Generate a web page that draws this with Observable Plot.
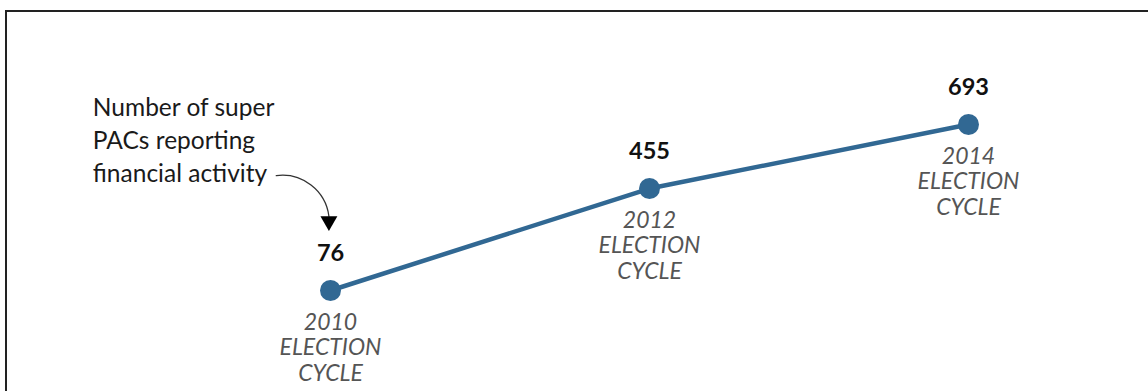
<!DOCTYPE html>
<html>
<head>
<meta charset="utf-8">
<script src="https://cdn.jsdelivr.net/npm/d3@7"></script>
<script src="https://cdn.jsdelivr.net/npm/@observablehq/plot@0.6"></script>
<style>
  html, body { margin: 0; padding: 0; background: #fff; }
  #wrap { position: relative; width: 1148px; height: 391px; overflow: hidden; }
  #wrap svg { position: absolute; left: 0; top: 0; }
  #frame { position: absolute; left: 5px; top: 10px; right: -10px; bottom: -10px;
           border-left: 2px solid #222; border-top: 2px solid #222; pointer-events: none; }
</style>
</head>
<body>
<div id="wrap"><div id="frame"></div></div>
<script>
// Data
const cycles = [2010, 2012, 2014];
const superPACs = [76, 455, 693];
const cycleLabels = ["2010\nELECTION\nCYCLE", "2012\nELECTION\nCYCLE", "2014\nELECTION\nCYCLE"];

// Annotation (data-space anchors)
const noteText = ["Number of super\nPACs reporting\nfinancial activity"];
const noteX = [2008.51];
const noteY = [640];
const arrowFrom = [[2009.66, 503]];
const arrowTo = [[2009.99, 352]];
const arrowHead = [[2009.99, 334]];

const data = cycles.map((c, i) => ({cycle: c, value: superPACs[i], label: cycleLabels[i]}));
const note = noteText.map((t, i) => ({text: t, x: noteX[i], y: noteY[i]}));
const arrows = arrowFrom.map((a, i) => ({x1: a[0], y1: a[1], x2: arrowTo[i][0], y2: arrowTo[i][1]}));
const heads = arrowHead.map(h => ({x: h[0], y: h[1]}));

const blue = "#316893";
const font = "Lato, 'Open Sans', sans-serif";

const chart = Plot.plot({
  width: 1148,
  height: 391,
  marginLeft: 330,
  marginRight: 180,
  marginTop: 124,
  marginBottom: 101,
  x: {domain: [2010, 2014], axis: null},
  y: {domain: [76, 693], axis: null},
  style: {fontFamily: font, background: "transparent", overflow: "visible"},
  marks: [
    Plot.line(data, {x: "cycle", y: "value", stroke: blue, strokeWidth: 4.5}),
    Plot.dot(data, {x: "cycle", y: "value", r: 10.5, fill: blue, stroke: "none"}),
    Plot.text(data, {x: "cycle", y: "value", text: d => String(d.value), dy: -37,
      fontSize: 23.5, fontWeight: "bold", fill: "#111"}),
    Plot.text(data, {x: "cycle", y: "value", text: "label", dy: 21, lineAnchor: "top",
      lineHeight: 1.11, fontSize: 23, fontStyle: "italic", fill: "#555"}),
    Plot.text(note, {x: "x", y: "y", text: "text", textAnchor: "start", lineAnchor: "middle",
      lineHeight: 1.35, fontSize: 24.5, fill: "#1a1a1a"}),
    Plot.arrow(arrows, {x1: "x1", y1: "y1", x2: "x2", y2: "y2", bend: 45, headLength: 0,
      stroke: "#333", strokeWidth: 1.3}),
    Plot.dot(heads, {x: "x", y: "y", symbol: "triangle", rotate: 180, r: 6.3, fill: "#000", stroke: "none"})
  ]
});
document.getElementById("wrap").prepend(chart);
</script>
</body>
</html>
